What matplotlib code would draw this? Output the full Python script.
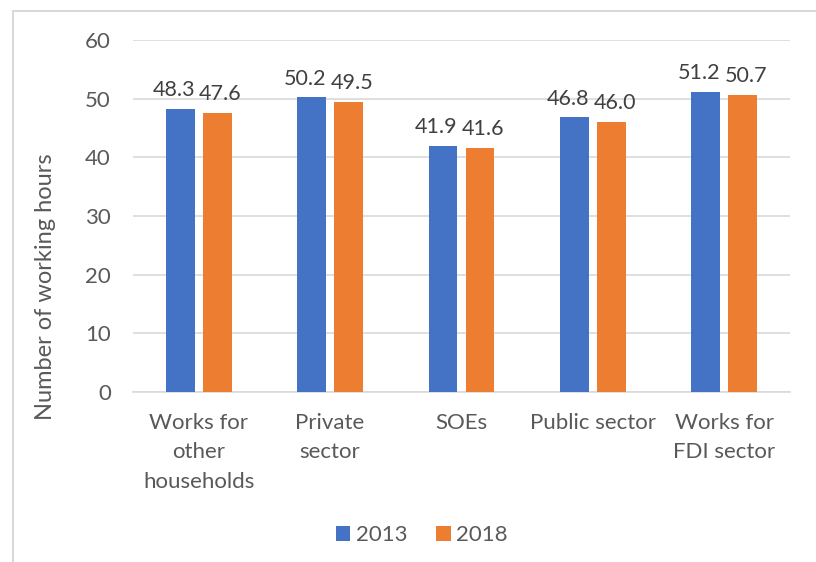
import numpy as np
import matplotlib
matplotlib.use("Agg")
import matplotlib.pyplot as plt
from matplotlib.patches import Rectangle

plt.rcParams['font.family'] = ['Lato', 'DejaVu Sans']

categories = ['Works for\nother\nhouseholds', 'Private\nsector', 'SOEs', 'Public sector', 'Works for\nFDI sector']
hours_2013 = [48.3, 50.2, 41.9, 46.8, 51.2]
hours_2018 = [47.6, 49.5, 41.6, 46.0, 50.7]
years = ['2013', '2018']

blue = '#4472C4'
orange = '#ED7D31'
txt = '#595959'

fig = plt.figure(figsize=(8.16, 5.62), dpi=100)
# light frame around the chart area
fig.patches.append(Rectangle((13 / 816, -0.1), 1.2, 1 - 11 / 562 + 0.1,
                             transform=fig.transFigure, fill=False,
                             edgecolor='#D9D9D9', linewidth=1.5))

ax = fig.add_axes([133 / 816, 1 - 392 / 562, (790 - 133) / 816, (392 - 40) / 562])

x = np.arange(len(categories))
w = 0.22
off = 0.141
b1 = ax.bar(x - off, hours_2013, w, color=blue, label=years[0], zorder=3)
b2 = ax.bar(x + off, hours_2018, w, color=orange, label=years[1], zorder=3)

# value labels, nudged apart so neighbouring numbers don't collide
for bars, vals, nudge in ((b1, hours_2013, -0.05), (b2, hours_2018, 0.025)):
    for r, v in zip(bars, vals):
        ax.text(r.get_x() + r.get_width() / 2 + nudge, v + 2.2, f'{v:.1f}',
                ha='center', va='baseline', fontsize=15.5, color='#404040')

ax.set_xlim(-0.5, len(categories) - 0.5)
ax.set_ylim(0, 60)
ax.set_yticks(range(0, 61, 10))
ax.yaxis.grid(True, color='#D9D9D9', linewidth=1.2, zorder=0)
ax.set_axisbelow(True)
for s in ['top', 'right', 'left']:
    ax.spines[s].set_visible(False)
ax.spines['bottom'].set_color('#D9D9D9')
ax.spines['bottom'].set_linewidth(1.2)
ax.tick_params(axis='both', length=0, labelsize=16, labelcolor=txt)
ax.tick_params(axis='y', pad=16)
ax.tick_params(axis='x', pad=15)
ax.set_xticks(x)
ax.set_xticklabels(categories, linespacing=1.6)
ax.set_ylabel('Number of working hours', fontsize=17, color=txt)
ax.yaxis.set_label_coords(-0.117, 0.30)

fig.legend(handles=[b1, b2], labels=years, loc='center', bbox_to_anchor=(422 / 816, 1 - 535 / 562),
           ncol=2, frameon=False, fontsize=16, labelcolor=txt,
           handlelength=0.65, handleheight=0.65, handletextpad=0.25, columnspacing=1.3)

fig.savefig('out.png', dpi=100)
